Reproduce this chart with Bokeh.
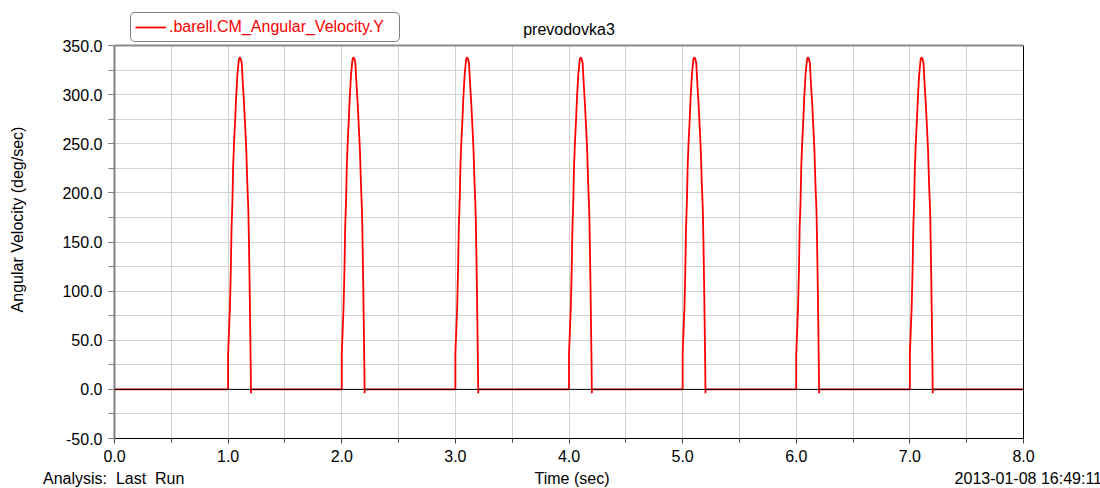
from bokeh.plotting import figure
from bokeh.models import (Range1d, SingleIntervalTicker, FixedTicker, PrintfTickFormatter, Label,
                          Legend, LegendItem, Span, BoxAnnotation, LinearAxis, Div)
from bokeh.layouts import column
from bokeh.embed import file_html
from bokeh.resources import INLINE

# ---- data ----
pulse_starts = [1.0, 2.0, 3.0, 4.0, 5.0, 6.0, 7.0]
pulse_dt = [0.000, 0.000, 0.016, 0.024, 0.030, 0.038, 0.044, 0.053, 0.062, 0.070,
            0.082, 0.095, 0.104, 0.112, 0.120, 0.131, 0.140, 0.149, 0.160, 0.169,
            0.178, 0.183, 0.189, 0.195, 0.199, 0.201, 0.203]
pulse_val = [0, 36, 84, 123, 164, 192, 226, 253, 274, 296,
             321, 336, 338, 336, 332, 308, 291, 270, 243, 209,
             182, 152, 108, 57, 21, -4, 0]
t_start, t_end = 0.0, 8.0
y_min, y_max = -50.0, 350.0

series_name = ".barell.CM_Angular_Velocity.Y"
title_text = "prevodovka3"
x_label = "Time (sec)"
y_label = "Angular Velocity (deg/sec)"
analysis_text = "Analysis:&nbsp; Last&nbsp; Run"
date_text = "2013-01-08 16:49:11"

t = [t_start]
v = [0]
for s in pulse_starts:
    t += [s + d for d in pulse_dt]
    v += pulse_val
t.append(t_end)
v.append(0)

FONT = "Liberation Sans"
W = 1100
H_FIG = 470
H_DIV = 18
BL, BR, BB = 114, 77, 32
TOP_PAD = 45                     # pixels between canvas top and the 350 line
FW = W - BL - BR
FH = H_FIG - BB
y_top = y_max + TOP_PAD * (y_max - y_min) / (FH - TOP_PAD)

p = figure(width=W, height=H_FIG, output_backend="svg", toolbar_location=None,
           x_range=Range1d(t_start, t_end), y_range=Range1d(y_min, y_top),
           min_border_left=BL, min_border_right=BR, min_border_top=0, min_border_bottom=BB)
p.background_fill_color = "white"
p.border_fill_color = "white"
p.outline_line_color = None

# axes
p.xaxis.ticker = SingleIntervalTicker(interval=1, num_minor_ticks=2)
p.yaxis.ticker = SingleIntervalTicker(interval=50, num_minor_ticks=2)
p.xgrid.ticker = p.xaxis.ticker
p.ygrid.ticker = p.yaxis.ticker
p.yaxis.bounds = (y_min, y_max)
for ax in (p.xaxis, p.yaxis):
    ax.formatter = PrintfTickFormatter(format="%.1f")
    ax.major_label_text_font = FONT
    ax.major_label_text_font_size = "16px"
    ax.major_label_text_color = "black"
    ax.major_tick_in = 0
    ax.minor_tick_in = 0
    ax.axis_label_text_font = FONT
    ax.axis_label_text_font_size = "16px"
    ax.axis_label_text_font_style = "normal"
    ax.axis_label_text_color = "black"
p.xaxis.axis_line_color = "black"
p.xaxis.major_tick_line_color = "#404040"
p.xaxis.minor_tick_line_color = "#404040"
p.xaxis.major_tick_out = 5
p.xaxis.minor_tick_out = 4
p.xaxis.major_label_standoff = 6
p.yaxis.axis_line_color = "#808080"
p.yaxis.axis_line_width = 2
p.yaxis.major_tick_line_color = "#808080"
p.yaxis.minor_tick_line_color = "#808080"
p.yaxis.major_tick_out = 6
p.yaxis.minor_tick_out = 6
p.yaxis.major_label_standoff = 6
p.yaxis.axis_label = y_label
p.yaxis.axis_label_standoff = 33

# right border of the plot box
right_axis = LinearAxis(ticker=FixedTicker(ticks=[]), bounds=(y_min, y_max),
                        axis_line_color="black", axis_line_width=1)
p.add_layout(right_axis, "right")

for g in (p.xgrid, p.ygrid):
    g.grid_line_color = "#d2d2d2"
    g.grid_line_width = 1
    g.minor_grid_line_color = "#d2d2d2"
    g.minor_grid_line_width = 1

p.add_layout(Span(location=0, dimension="width", line_color="black", line_width=1))

r = p.line(t, v, line_color="#ff0000", line_width=1.8)

# area above the plot box (legend / title row)
p.add_layout(BoxAnnotation(bottom=y_max, fill_color="white", fill_alpha=1,
                           line_alpha=0))
p.add_layout(Span(location=y_max, dimension="width", line_color="#8a8a8a", line_width=2))

legend = Legend(items=[LegendItem(label=series_name, renderers=[r])])
legend.location = (16, FH - 42)
legend.label_text_color = "#ff0000"
legend.label_text_font = FONT
legend.label_text_font_size = "16px"
legend.padding = 4
legend.margin = 0
legend.spacing = 0
legend.glyph_width = 31
legend.glyph_height = 20
legend.label_height = 20
legend.label_standoff = 3
legend.label_width = 226
legend.border_line_color = "black"
legend.border_line_width = 1
legend.border_radius = 5
legend.background_fill_color = "white"
legend.background_fill_alpha = 1
p.add_layout(legend, "center")

p.add_layout(Label(x=FW / 2, y=FH - 29, x_units="screen", y_units="screen", text=title_text,
                   text_align="center", text_baseline="middle", text_font=FONT,
                   text_font_size="16px", text_color="black"))

span_style = "position:absolute;top:-5px;white-space:nowrap;"
footer_html = (
    f'<div style="position:relative;width:{W}px;height:{H_DIV}px;font-family:\'{FONT}\';'
    f'font-size:16px;line-height:{H_DIV}px;color:black;">'
    f'<span style="{span_style}left:38px;">{analysis_text}</span>'
    f'<span style="{span_style}left:567px;transform:translateX(-50%);">{x_label}</span>'
    f'<span style="{span_style}right:3px;">{date_text}</span>'
    '</div>'
)
footer = Div(text=footer_html, width=W, height=H_DIV)

layout = column(p, footer, spacing=0)
open("out.html", "w").write(file_html(layout, INLINE))
